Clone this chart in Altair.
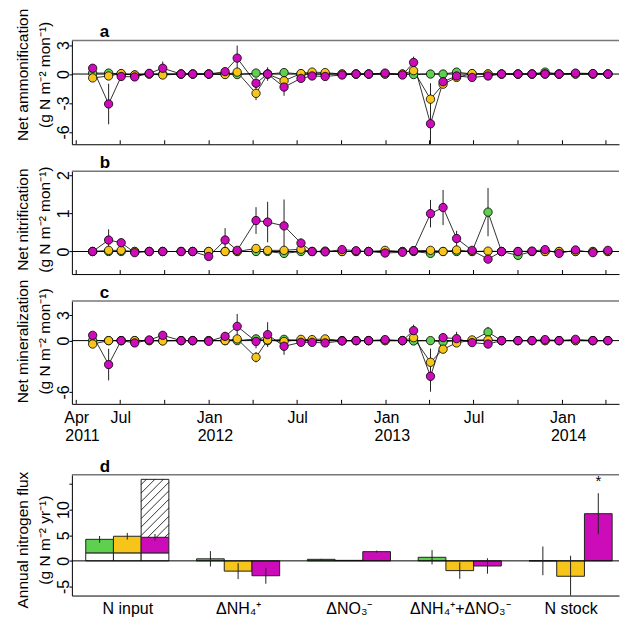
import altair as alt
import pandas as pd

FONT = "Liberation Sans"
W = 548
C_G, C_Y, C_M = "#5ECF4F", "#F7C51A", "#CC0CB9"

dates = ["2011-05-05", "2011-06-07", "2011-07-03", "2011-07-31", "2011-08-30", "2011-09-27",
         "2011-11-04", "2011-11-28", "2011-12-31", "2012-02-03", "2012-02-28", "2012-04-07",
         "2012-05-01", "2012-06-04", "2012-07-09", "2012-08-01", "2012-08-28", "2012-10-02",
         "2012-10-31", "2012-11-26", "2012-12-30", "2013-02-04", "2013-02-27", "2013-04-03",
         "2013-04-29", "2013-05-27", "2013-06-28", "2013-07-31", "2013-08-28", "2013-10-01",
         "2013-10-30", "2013-11-26", "2013-12-25", "2014-01-28", "2014-03-05", "2014-04-05"]

# Panel a: net ammonification
amm_green = [0.1, 0.1, 0, -0.1, 0, 0, 0, 0, 0, 0, -0.05, 0.1, 0, 0.15, 0, 0, 0, 0,
             0, 0, 0, 0, -0.05, 0, 0, 0.2, 0, 0, 0, 0, 0, 0.2, 0, 0, 0, 0]
amm_yellow = [-0.4, -0.2, 0.05, -0.1, 0, -0.1, 0, 0, 0, -0.05, 0.2, -2.0, 0, -0.7, 0.05, 0.2, 0.15, 0,
              0, 0, 0, 0, 0.35, -2.6, -1.05, -0.35, 0.05, 0, 0, 0, 0, 0, 0, 0, 0, 0]
amm_magenta = [0.6, -3.1, -0.25, -0.3, 0.07, 0.6, 0, 0, 0, 0.25, 1.65, -0.95, 0, -1.35, -0.45, -0.2, -0.25, -0.1,
               0, 0, 0.1, -0.1, 1.2, -5.15, -0.8, -0.2, -0.35, -0.2, 0, 0, 0, 0, 0, 0.1, 0.05, 0]
amm_green_err = [0.1, 0.1, 0.05, 0.1, 0.05, 0.05, 0.05, 0.05, 0.05, 0.05, 0.1, 0.2, 0.1, 0.2, 0.05, 0.05, 0.05, 0.05,
                 0.05, 0.05, 0.05, 0.05, 0.1, 0.1, 0.1, 0.2, 0.05, 0.05, 0.05, 0.05, 0.05, 0.2, 0.05, 0.05, 0.05, 0.05]
amm_yellow_err = [0.2, 0.2, 0.1, 0.1, 0.05, 0.1, 0.05, 0.05, 0.05, 0.1, 0.3, 0.7, 0.1, 0.3, 0.1, 0.2, 0.2, 0.05,
                  0.05, 0.05, 0.05, 0.05, 0.3, 1.0, 0.3, 0.2, 0.1, 0.05, 0.05, 0.05, 0.05, 0.05, 0.05, 0.05, 0.05, 0.05]
amm_magenta_err = [0.3, 2.1, 0.2, 0.2, 0.1, 0.7, 0.05, 0.05, 0.05, 0.2, 1.3, 0.5, 0.7, 0.9, 0.3, 0.2, 0.2, 0.1,
                   0.05, 0.05, 0.1, 0.1, 0.6, 4.2, 0.3, 0.2, 0.2, 0.2, 0.05, 0.05, 0.05, 0.05, 0.05, 0.1, 0.05, 0.05]

# Panel b: net nitrification
nit_green = [0, 0, 0, 0, 0, 0, 0, 0, 0, 0, 0, 0, 0, -0.05, 0, 0, 0, 0,
             0, 0, 0, 0, 0, -0.05, 0, 0, 0, 1.03, 0, -0.1, 0, 0, 0, 0, 0, 0]
nit_yellow = [0, 0.03, 0.03, 0, 0, 0, 0, 0, 0, 0, 0, 0.08, 0.03, 0.03, 0.06, 0, 0.01, 0,
              0, 0, 0.03, 0, 0.02, 0.03, 0, 0.04, 0, 0.01, 0, 0, 0, 0, 0, 0, 0, 0]
nit_magenta = [0, 0.30, 0.23, -0.03, 0, 0, 0, 0, -0.13, 0.30, 0.03, 0.81, 0.77, 0.67, 0.22, 0, -0.01, 0.05,
               0.02, 0, -0.04, -0.02, 0.02, 0.99, 1.15, 0.34, 0.03, -0.2, 0, 0, 0.01, 0.05, -0.05, 0.04, -0.03, 0.03]
nit_green_err = [0.02] * 27 + [0.63, 0.02, 0.05] + [0.02] * 6
nit_yellow_err = [0.02] * 36
nit_magenta_err = [0.02, 0.28, 0.1, 0.02, 0.02, 0.02, 0.02, 0.02, 0.05, 0.31, 0.02, 0.35, 0.53, 0.69, 0.12, 0.02, 0.02, 0.02,
                   0.02, 0.02, 0.02, 0.02, 0.02, 0.36, 0.46, 0.2, 0.02, 0.05, 0.02, 0.02, 0.02, 0.02, 0.02, 0.02, 0.02, 0.02]

# Panel c: net mineralization
min_green = [0, 0, 0, 0, 0, 0, 0, 0, 0, 0, 0, 0.2, 0, 0.15, 0, 0, 0, 0,
             0, 0, 0, 0, -0.04, 0, -0.15, 0, 0, 1.0, 0, 0, 0, 0, 0, 0, 0, 0]
min_yellow = [-0.4, 0, 0, 0, 0, -0.04, 0, 0, 0, 0, 0.2, -1.95, 0.08, -0.1, 0.15, 0.12, 0.2, 0,
              0, 0, 0, 0, 0.35, -2.53, -1.0, -0.27, 0.08, 0.08, 0, 0, 0, 0, 0, 0, 0, 0]
min_magenta = [0.62, -2.8, 0, -0.27, 0.08, 0.62, 0, 0, -0.08, 0.5, 1.67, -0.1, 0.7, -0.66, -0.2, -0.2, -0.27, -0.04,
               0, 0, 0.12, 0, 1.17, -4.17, 0.35, 0.23, -0.23, -0.4, 0, 0, 0, 0.12, 0, 0.15, 0, 0]
min_green_err = [0.1] * 11 + [0.3] + [0.1] * 15 + [0.6] + [0.1] * 8
min_yellow_err = [0.2, 0.1, 0.1, 0.1, 0.05, 0.1, 0.05, 0.05, 0.05, 0.1, 0.3, 0.6, 0.2, 0.3, 0.1, 0.1, 0.2, 0.05,
                  0.05, 0.05, 0.05, 0.05, 0.3, 1.6, 0.3, 0.2, 0.1, 0.1, 0.05, 0.05, 0.05, 0.05, 0.05, 0.05, 0.05, 0.05]
min_magenta_err = [0.3, 1.85, 0.2, 0.2, 0.1, 0.5, 0.05, 0.05, 0.1, 0.5, 1.45, 0.8, 1.45, 1.0, 0.3, 0.2, 0.2, 0.1,
                   0.05, 0.05, 0.1, 0.1, 0.7, 1.8, 0.3, 0.8, 0.2, 0.2, 0.05, 0.05, 0.05, 0.1, 0.05, 0.1, 0.05, 0.05]

# Panel d: annual nitrogen flux
categories = ["N input", "ΔNH₄⁺", "ΔNO₃⁻", "ΔNH₄⁺+ΔNO₃⁻", "N stock"]
d_green = [4.2, 0.4, 0.3, 0.7, 0.0]
d_yellow = [4.8, -2.0, 0.1, -1.9, -3.0]
d_magenta = [4.6, -2.9, 1.8, -1.0, 9.2]
d_green_err = [0.65, 1.5, 0.1, 1.4, 2.8]
d_yellow_err = [0.65, 1.55, 0.05, 1.6, 4.0]
d_magenta_err = [0.65, 1.55, 0.2, 1.5, 4.0]
n_deposition = 1.56
n_hatched_top = 15.9

tick_dates = ["2011-04-01", "2011-07-01", "2011-10-01", "2012-01-01", "2012-04-01", "2012-07-01", "2012-10-01",
              "2013-01-01", "2013-04-01", "2013-07-01", "2013-10-01", "2014-01-01", "2014-04-01"]
year_labels = ["2011", "2012", "2013", "2014"]
year_dates = ["2011-04-14", "2012-01-14", "2013-01-14", "2014-01-14"]

tickvals = [alt.DateTime(year=int(t[:4]), month=int(t[5:7]), date=1) for t in tick_dates]
xdom = [alt.DateTime(year=2011, month=3, date=23), alt.DateTime(year=2014, month=4, date=28)]
tdf = pd.DataFrame({"tick": [t + "T00:00:00" for t in tick_dates]})
ydf = pd.DataFrame({"yd": [d + "T00:00:00" for d in year_dates], "lab": year_labels})

SERIES = ["green", "yellow", "magenta"]
color_scale = alt.Scale(domain=SERIES, range=[C_G, C_Y, C_M])
one = pd.DataFrame({"k": [0], "z": [0.0]})


def yaxis(values, title, titleY, expr="'' + datum.value"):
    return alt.Axis(values=values, title=title, titleY=titleY, labelAngle=270, labelAlign="center",
                    labelBaseline="alphabetic", tickSize=3, labelPadding=0, labelFontSize=16,
                    titleFontSize=15.5, titleFontWeight="normal", titlePadding=3, titleLineHeight=22,
                    domainColor="black", tickColor="black", labelColor="black", titleColor="black",
                    grid=False, labelExpr=expr)


def letter_mark(letter):
    return alt.Chart(one).mark_text(text=letter, fontSize=17, fontWeight="bold", font=FONT, color="black",
                                    align="left", baseline="alphabetic").encode(
        x=alt.value(28), y=alt.value(-3))


def ts_panel(letter, title, g, ge, yv, ye, m, me, ydom, yvals, H, titleY, labels):
    rows = []
    for name, vals, errs in (("green", g, ge), ("yellow", yv, ye), ("magenta", m, me)):
        for d, v, e in zip(dates, vals, errs):
            rows.append(dict(date=d + "T00:00:00", series=name, v=v, lo=v - e, hi=v + e))
    df = pd.DataFrame(rows)
    xs = alt.Scale(domain=xdom)
    ys = alt.Scale(domain=ydom, nice=False, zero=False)
    if labels:
        lab = ("month(datum.value)==3 && year(datum.value)==2011 ? 'Apr' : "
               "month(datum.value)==0 ? 'Jan' : month(datum.value)==6 ? 'Jul' : ''")
        xa = alt.Axis(values=tickvals, ticks=False, labelExpr=lab, labelFontSize=16,
                      labelPadding=6, labelFlush=False, labelOverlap=False, domainColor="black",
                      labelColor="black", grid=False, title=None)
    else:
        xa = alt.Axis(values=tickvals, ticks=False, labels=False, domainColor="black", grid=False, title=None)
    ya = yaxis(yvals, title, titleY)

    top = alt.Chart(one).mark_rule(color="#777777", strokeWidth=1.5).encode(
        x=alt.value(0), x2=alt.value(W), y=alt.value(0))
    zero = alt.Chart(one).mark_rule(color="black", strokeWidth=1).encode(
        y=alt.Y("z:Q", scale=ys, axis=ya))
    ticks = alt.Chart(tdf).mark_rule(color="black", strokeWidth=1).encode(
        x=alt.X("tick:T", scale=xs, axis=xa), y=alt.value(H - 4), y2=alt.value(H))
    err = alt.Chart(df).mark_rule(color="#222222", strokeWidth=1, clip=True).encode(
        x=alt.X("date:T", scale=xs, axis=xa),
        y=alt.Y("lo:Q", scale=ys, axis=ya), y2="hi:Q")
    lines = alt.Chart(df).mark_line(color="black", strokeWidth=0.8).encode(
        x=alt.X("date:T", scale=xs, axis=xa),
        y=alt.Y("v:Q", scale=ys, axis=ya), detail="series:N")
    pts = alt.Chart(df).mark_circle(size=70, opacity=1, stroke="black", strokeWidth=0.8).encode(
        x=alt.X("date:T", scale=xs, axis=xa),
        y=alt.Y("v:Q", scale=ys, axis=ya),
        color=alt.Color("series:N", scale=color_scale, legend=None))
    layers = [top, zero, ticks, err, lines, pts, letter_mark(letter)]
    if labels:
        years = alt.Chart(ydf).mark_text(fontSize=16, baseline="top", font=FONT, color="black").encode(
            x=alt.X("yd:T", scale=xs, axis=xa), y=alt.value(H + 24), text="lab:N")
        layers.append(years)
    return alt.layer(*layers).properties(width=W, height=H)


pa = ts_panel("a", ["Net ammonification", "(g N m⁻² mon⁻¹)"], amm_green, amm_green_err, amm_yellow,
              amm_yellow_err, amm_magenta, amm_magenta_err, [-7.27, 3.48], [-6, -3, 0, 3], 104, 34, False)
pb = ts_panel("b", ["Net nitrification", "(g N m⁻² mon⁻¹)"], nit_green, nit_green_err, nit_yellow,
              nit_yellow_err, nit_magenta, nit_magenta_err, [-0.59, 2.1], [0, 1, 2], 103, 48, False)
pc = ts_panel("c", ["Net mineralization", "(g N m⁻² mon⁻¹)"], min_green, min_green_err, min_yellow,
              min_yellow_err, min_magenta, min_magenta_err, [-7.39, 4.63], [-6, 0, 3], 103, 40, True)

spacer = alt.Chart(one).mark_point(opacity=0).encode(
    x=alt.X("k:Q", axis=None), y=alt.Y("k:Q", axis=None)).properties(width=W, height=17)

# ---- panel d ----
HD = 121
brows, erows = [], []
for i, cat in enumerate(categories):
    for j, (name, vals, errs) in enumerate((("green", d_green, d_green_err), ("yellow", d_yellow, d_yellow_err),
                                             ("magenta", d_magenta, d_magenta_err))):
        base = n_deposition if i == 0 else 0.0
        if i == 0:
            brows.append(dict(grp=i + 1, sidx=j, y0=0.0, y1=n_deposition, fillc="white"))
        brows.append(dict(grp=i + 1, sidx=j, y0=base, y1=vals[i], fillc=[C_G, C_Y, C_M][j]))
        erows.append(dict(grp=i + 1, sidx=j, lo=vals[i] - errs[i], hi=vals[i] + errs[i]))
brows.append(dict(grp=1, sidx=2, y0=d_magenta[0], y1=n_hatched_top, fillc="white"))
bdf = pd.DataFrame(brows)
edf = pd.DataFrame(erows)

# diagonal hatch segments inside the hatched bar, derived from its bounds
PX_X, PX_Y = 111.0, 5.13
xl, xr = 1 + 0.125, 1 + 0.375
wpx = (xr - xl) * PX_X
hpx = (n_hatched_top - d_magenta[0]) * PX_Y
hrows = []
c = -wpx + 4
while c < hpx:
    s0, s1 = max(0.0, -c), min(wpx, hpx - c)
    if s1 > s0:
        hrows.append(dict(hx=xl + s0 / PX_X, hx2=xl + s1 / PX_X,
                          hy=d_magenta[0] + (s0 + c) / PX_Y, hy2=d_magenta[0] + (s1 + c) / PX_Y))
    c += 8.5
hdf = pd.DataFrame(hrows)
sdf = pd.DataFrame([dict(grp=5, sidx=2, y=d_magenta[4] + d_magenta_err[4], t="*")])

dxs = alt.Scale(domain=[0.5, 0.5 + W / PX_X], nice=False, zero=False)
dys = alt.Scale(domain=[-6.76, 16.8], nice=False, zero=False)
cat_expr = "[" + ",".join("'" + c_ + "'" for c_ in categories) + "][datum.value-1]"
d_xaxis = alt.Axis(values=[1, 2, 3, 4, 5], labelExpr=cat_expr, ticks=False, labelFontSize=16, labelPadding=5,
                   labelFlush=False, labelOverlap=False, domainColor="black", labelColor="black",
                   grid=False, title=None)
d_yaxis = yaxis([-5, 0, 5, 10, 15], ["Annual nitrogen flux", "(g N m⁻² yr⁻¹)"], 65,
                "datum.value == 15 ? '' : '' + datum.value")

d_top = alt.Chart(one).mark_rule(color="#777777", strokeWidth=1.5).encode(
    x=alt.value(0), x2=alt.value(W), y=alt.value(0))
bars = alt.Chart(bdf).transform_calculate(
    x0="datum.grp - 0.375 + 0.25*datum.sidx", x1="datum.grp - 0.125 + 0.25*datum.sidx"
).mark_rect(stroke="#222222", strokeWidth=1).encode(
    x=alt.X("x0:Q", scale=dxs, axis=d_xaxis), x2="x1:Q",
    y=alt.Y("y0:Q", scale=dys, axis=d_yaxis), y2="y1:Q",
    fill=alt.Fill("fillc:N", scale=None))
hatch = alt.Chart(hdf).mark_rule(color="black", strokeWidth=0.8).encode(
    x=alt.X("hx:Q", scale=dxs, axis=d_xaxis), x2="hx2:Q",
    y=alt.Y("hy:Q", scale=dys, axis=d_yaxis), y2="hy2:Q")
d_zero = alt.Chart(one).mark_rule(color="black", strokeWidth=1).encode(
    y=alt.Y("z:Q", scale=dys, axis=d_yaxis))
d_err = alt.Chart(edf).transform_calculate(xc="datum.grp - 0.25 + 0.25*datum.sidx").mark_rule(
    color="#222222", strokeWidth=1, clip=True).encode(
    x=alt.X("xc:Q", scale=dxs, axis=d_xaxis), y=alt.Y("lo:Q", scale=dys, axis=d_yaxis), y2="hi:Q")
star = alt.Chart(sdf).transform_calculate(xc="datum.grp - 0.25 + 0.25*datum.sidx").mark_text(
    fontSize=15, baseline="bottom", dy=-4, font=FONT, color="black").encode(
    x=alt.X("xc:Q", scale=dxs, axis=d_xaxis), y=alt.Y("y:Q", scale=dys, axis=d_yaxis), text="t:N")

pd_ = alt.layer(d_top, bars, hatch, d_zero, d_err, star, letter_mark("d")).properties(width=W, height=HD)

chart = alt.vconcat(pa, pb, pc, spacer, pd_, spacing=27, bounds="flush").resolve_scale(
    color="independent").configure(font=FONT).configure_view(stroke=None).properties(
    padding={"left": 15, "top": 7, "right": 0, "bottom": 0})

chart.save("out.html", embed_options={"renderer": "svg", "actions": False})
